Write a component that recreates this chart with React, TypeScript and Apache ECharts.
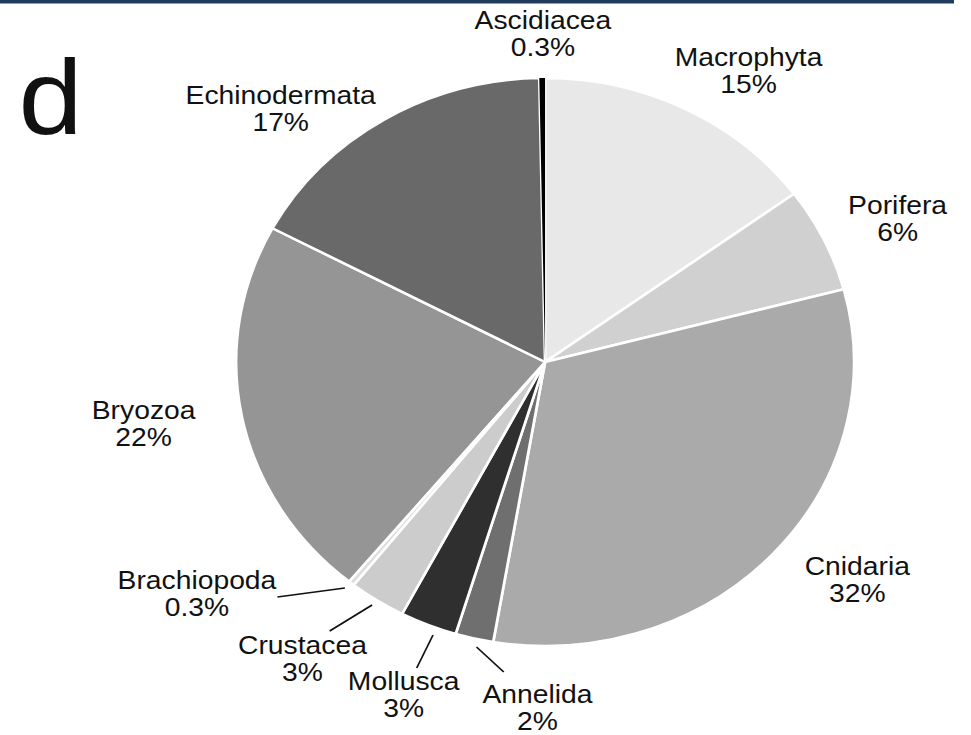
import React, { useEffect, useRef } from "react";
import * as echarts from "echarts";

// ---- data ----
const categories = [
  "Macrophyta",
  "Porifera",
  "Cnidaria",
  "Annelida",
  "Mollusca",
  "Crustacea",
  "Brachiopoda",
  "Bryozoa",
  "Echinodermata",
  "Ascidiacea",
];
const percentages = [15, 6, 32, 2, 3, 3, 0.3, 22, 17, 0.3];
const percentLabels = ["15%", "6%", "32%", "2%", "3%", "3%", "0.3%", "22%", "17%", "0.3%"];
const panelLetter = "d";

// ---- layout / style ----
const SX = 1.088; // horizontal stretch of the original figure
const W = 971 / SX;
const H = 735;
const FONT = "'Liberation Sans', Arial, Helvetica, sans-serif";

const sliceColors = [
  "#e8e8e8",
  "#d0d0d0",
  "#aaaaaa",
  "#6f6f6f",
  "#2f2f2f",
  "#cccccc",
  "#dddddd",
  "#959595",
  "#696969",
  "#000000",
];

// label centres (unstretched chart coordinates)
const labelCenters: [number, number][] = [
  [688, 70],
  [825, 218],
  [788, 579],
  [494, 707],
  [371, 694],
  [278, 658],
  [181, 593],
  [132, 423],
  [258, 108],
  [499, 33],
];

const leaderLines: ([number, number][] | null)[] = [
  null,
  null,
  null,
  [[438, 647], [463, 672]],
  [[398, 635], [383, 668]],
  [[342, 605], [303, 631]],
  [[317, 588], [255, 597]],
  null,
  null,
  null,
];

export default function App() {
  const ref = useRef<HTMLDivElement>(null);

  useEffect(() => {
    if (!ref.current) return;
    const chart = echarts.init(ref.current, undefined, { renderer: "svg" });
    chart.setOption({
      animation: false,
      backgroundColor: "#ffffff",
      graphic: [
        {
          type: "rect",
          left: 0,
          top: 0,
          shape: { x: 0, y: 0, width: 954 / SX, height: 3.5 },
          style: { fill: "#213b5c" },
          silent: true,
        },
        {
          type: "text",
          x: 17,
          y: 97,
          style: {
            text: panelLetter,
            font: `106px ${FONT}`,
            fill: "#111111",
            align: "left",
            verticalAlign: "middle",
          },
          silent: true,
        },
      ],
      series: [
        {
          type: "pie",
          center: [501, 362],
          radius: 284,
          startAngle: 90,
          clockwise: true,
          avoidLabelOverlap: false,
          minAngle: 0,
          silent: true,
          itemStyle: { borderColor: "#ffffff", borderWidth: 2.5 },
          label: {
            show: true,
            position: "outside",
            formatter: (p: any) => `${p.name}\n${percentLabels[p.dataIndex]}`,
            color: "#111111",
            fontFamily: FONT,
            fontSize: 26,
            lineHeight: 27,
            align: "center",
          },
          labelLine: {
            show: true,
            smooth: false,
            length: 10,
            length2: 10,
            lineStyle: { color: "#111111", width: 1.6 },
          },
          labelLayout: (params: any) => {
            const i = params.dataIndex;
            const [x, y] = labelCenters[i];
            const out: any = { x, y, align: "center", verticalAlign: "middle" };
            const pts = leaderLines[i];
            if (pts) out.labelLinePoints = [pts[0], pts[0], pts[1]];
            return out;
          },
          data: categories.map((name, i) => ({
            name,
            value: percentages[i],
            itemStyle:
              i === categories.length - 1
                ? { color: sliceColors[i], borderWidth: 0 }
                : { color: sliceColors[i] },
            labelLine: { show: !!leaderLines[i] },
          })),
        },
      ],
    });
    return () => chart.dispose();
  }, []);

  return (
    <div
      style={{
        position: "fixed",
        left: 0,
        top: 0,
        width: 971,
        height: 735,
        background: "#fff",
        overflow: "hidden",
      }}
    >
      <div
        ref={ref}
        style={{
          width: W,
          height: H,
          transform: `scaleX(${SX})`,
          transformOrigin: "0 0",
        }}
      />
    </div>
  );
}
